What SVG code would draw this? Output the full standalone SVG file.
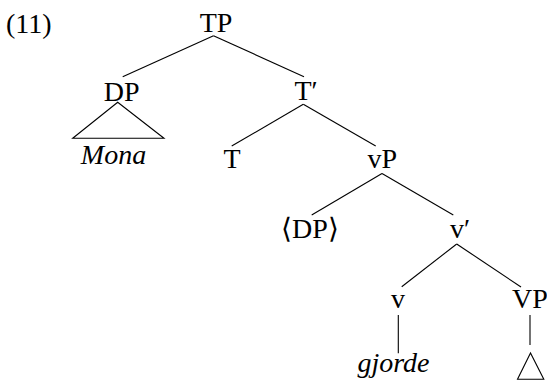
<svg xmlns="http://www.w3.org/2000/svg" width="547" height="383" viewBox="0 0 547 383">
<style>
text { font-family: "Liberation Serif", "Times New Roman", serif; font-size: 28px; fill: #000; }
.it { font-style: italic; }
.m { text-anchor: middle; }
line, polygon { stroke: #000; stroke-width: 1.1; fill: none; }
</style>
<rect width="547" height="383" fill="#fff"/>
<text x="6" y="33">(11)</text>
<g id="connectors">
<line x1="213.5" y1="35.7" x2="122.7" y2="76.7"/>
<line x1="213.5" y1="35.7" x2="304" y2="76.7"/>
<line x1="303.3" y1="104.3" x2="231.7" y2="146"/>
<line x1="303.3" y1="104.3" x2="375.7" y2="146"/>
<line x1="382" y1="173.5" x2="311.7" y2="215"/>
<line x1="382" y1="173.5" x2="453.3" y2="215"/>
<line x1="456.7" y1="244" x2="401.7" y2="286.7"/>
<line x1="456.7" y1="244" x2="521" y2="287"/>
<line x1="398.3" y1="315" x2="398.3" y2="353.3"/>
<line x1="530" y1="315" x2="530" y2="345"/>
</g>
<g id="TP"><text class="m" x="216" y="32">TP</text></g>
<g id="DP"><text class="m" x="121.7" y="100.5">DP</text>
<polygon points="117.7,102.3 72.7,138.3 164,138.3"/></g>
<g id="Mona"><text class="m it" x="113.5" y="164">Mona</text></g>
<g id="Tbar"><text x="294.5" y="100">T′</text></g>
<g id="T"><text class="m" x="232" y="168">T</text></g>
<g id="vP"><text class="m" x="382.2" y="168">vP</text></g>
<g id="DPtrace"><text class="m" x="310" y="238">⟨DP⟩</text></g>
<g id="vbar"><text x="450" y="238">v′</text></g>
<g id="v"><text class="m" x="398" y="308">v</text></g>
<g id="VP"><text class="m" x="530" y="308">VP</text></g>
<g id="gjorde"><text class="m it" x="393.5" y="372">gjorde</text></g>
<g id="VPtri"><polygon points="530.5,353 517.5,379.3 543.8,379.3"/></g>
</svg>
